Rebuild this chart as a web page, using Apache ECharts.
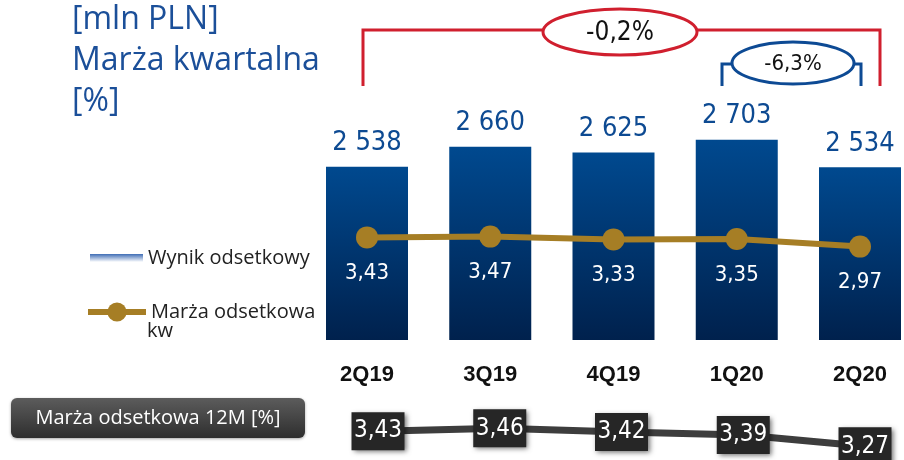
<!DOCTYPE html>
<html>
<head>
<meta charset="utf-8">
<title>Wynik odsetkowy</title>
<script src="https://cdn.jsdelivr.net/npm/echarts@6/dist/echarts.min.js"></script>
<style>
	html, body { margin:0; padding:0; background:#fff; }
	#chart { width:904px; height:460px; }
</style>
</head>
<body>
<div id="chart"></div>
<script>
// dane
var kwartaly = ['2Q19', '3Q19', '4Q19', '1Q20', '2Q20'];
var wynik_odsetkowy = [2538, 2660, 2625, 2703, 2534];
var marza_kw = [3.43, 3.47, 3.33, 3.35, 2.97];
var marza_12m = [3.43, 3.46, 3.42, 3.39, 3.27];
var zmiana_rr = '-0,2%';
var zmiana_kk = '-6,3%';

var NARROW = "'DejaVu Sans Condensed', 'Liberation Sans Narrow', sans-serif";
var SANS = "'Open Sans', 'Noto Sans', sans-serif";

var marza_chart = {
	init : function(){
		var myChart = echarts.init(document.getElementById('chart'), null, {renderer:'canvas'});
		myChart.setOption(marza_chart.get_options());
	},

	/**
	 * liczba z odstepem tysiecy
	 */
	fmt_tys : function(v){
		return String(v).replace(/\B(?=(\d{3})+(?!\d))/g, ' ');
	},

	fmt_proc : function(v){
		return v.toFixed(2).replace('.', ',');
	},

	get_graphic : function(){
		var red = '#D01F2E', blue = '#0D4A94';
		return [
			// tytul
			{type:'text', left:72, top:4, style:{text:'[mln PLN]', font:'32px ' + SANS, fill:'#1B4F99'}},
			{type:'text', left:72, top:45, style:{text:'Marża kwartalna', font:'32px ' + SANS, fill:'#1B4F99'}},
			{type:'text', left:72, top:86, style:{text:'[%]', font:'32px ' + SANS, fill:'#1B4F99'}},
			{type:'text', left:147, top:321, style:{text:'kw', font:'20px ' + SANS, fill:'#222'}},
			// klamra r/r
			{type:'polyline', shape:{points:[[363,86],[363,30],[880,30],[880,86]]}, style:{stroke:red, lineWidth:3, fill:null}},
			{type:'ellipse', shape:{cx:620, cy:32, rx:77, ry:23}, style:{stroke:red, lineWidth:3, fill:'#fff'}},
			{type:'text', x:620, y:33, style:{text:zmiana_rr, font:'26px ' + NARROW, fill:'#111', align:'center', verticalAlign:'middle'}},
			// klamra k/k
			{type:'polyline', shape:{points:[[722,86],[722,64],[734,64]]}, style:{stroke:blue, lineWidth:3, fill:null}},
			{type:'polyline', shape:{points:[[852,64],[861,64],[861,86]]}, style:{stroke:blue, lineWidth:3, fill:null}},
			{type:'ellipse', shape:{cx:793, cy:63, rx:61, ry:21}, style:{stroke:blue, lineWidth:3, fill:'#fff'}},
			{type:'text', x:793, y:64, style:{text:zmiana_kk, font:'22px ' + NARROW, fill:'#111', align:'center', verticalAlign:'middle'}},
			// marza 12M
			{type:'rect', shape:{x:11, y:398, width:294, height:40, r:6},
				style:{fill:new echarts.graphic.LinearGradient(0,0,0,1,[{offset:0,color:'#5C5C5C'},{offset:1,color:'#2E2E2E'}]),
					shadowBlur:3, shadowColor:'rgba(0,0,0,0.35)', shadowOffsetY:1}},
			{type:'text', x:158, y:418, style:{text:'Marża odsetkowa 12M [%]', font:'20px ' + SANS, fill:'#fff', align:'center', verticalAlign:'middle'}}
		];
	},

	get_options : function(){
		var option = {
			animation:false,
			textStyle:{fontFamily:SANS},
			legend:[
				{
					left:85, top:243, itemWidth:53, itemHeight:8, itemGap:0,
					textStyle:{fontSize:20, color:'#222', fontFamily:SANS},
					data:[{name:'Wynik odsetkowy', icon:'rect',
						itemStyle:{color:new echarts.graphic.LinearGradient(0,0,0,1,[{offset:0,color:'#3F6DB5'},{offset:1,color:'#FFFFFF'}])}}]
				},
				{
					left:80, top:297, itemWidth:58, itemHeight:24, itemGap:0,
					textStyle:{fontSize:20, color:'#222', fontFamily:SANS},
					data:[{name:'Marża odsetkowa', lineStyle:{width:6, color:'#A67E25'}}]
				}
			],
			grid:[
				{left:367, right:44, top:91, height:249},
				{left:367, right:44, top:106, height:200},
				{left:378, right:39, top:415, height:38}
			],
			xAxis:[
				{
					gridIndex:0, type:'category', data:kwartaly, boundaryGap:false,
					axisLine:{show:false}, axisTick:{show:false},
					axisLabel:{margin:24, fontSize:22, fontWeight:'bold', color:'#111', fontFamily:"'Liberation Sans', sans-serif"}
				},
				{gridIndex:1, type:'category', data:kwartaly, show:false, boundaryGap:false},
				{gridIndex:2, type:'category', data:kwartaly, show:false, boundaryGap:false}
			],
			yAxis:[
				{gridIndex:0, type:'value', min:1480, max:3000, show:false},
				{gridIndex:1, type:'value', min:0, max:10, show:false},
				{gridIndex:2, type:'value', min:3.2, max:3.6, show:false}
			],
			series:[
				{
					name:'Wynik odsetkowy', type:'bar', xAxisIndex:0, yAxisIndex:0,
					barWidth:82, data:wynik_odsetkowy,
					itemStyle:{color:new echarts.graphic.LinearGradient(0,0,0,1,[{offset:0,color:'#00498F'},{offset:1,color:'#00214D'}])},
					label:{show:true, position:'top', distance:10, fontSize:27, color:'#0D4A92', fontFamily:NARROW,
						formatter:function(p){ return marza_chart.fmt_tys(p.value); }}
				},
				{
					name:'Marża odsetkowa', type:'line', xAxisIndex:1, yAxisIndex:1,
					data:marza_kw, symbol:'circle', symbolSize:22,
					lineStyle:{color:'#A67E25', width:6},
					itemStyle:{color:'#A67E25'},
					label:{show:true, position:'bottom', distance:14, fontSize:22, color:'#fff', fontFamily:NARROW,
						formatter:function(p){ return marza_chart.fmt_proc(p.value); }}
				},
				{
					name:'Marża odsetkowa 12M', type:'line', xAxisIndex:2, yAxisIndex:2,
					data:marza_12m, symbol:'rect', symbolSize:[53,38],
					lineStyle:{color:'#3D3D3D', width:7},
					itemStyle:{color:'#262626', shadowBlur:5, shadowColor:'rgba(0,0,0,0.55)', shadowOffsetX:2, shadowOffsetY:2},
					label:{show:true, position:'inside', fontSize:24, color:'#fff', fontFamily:NARROW,
						formatter:function(p){ return marza_chart.fmt_proc(p.value); }}
				}
			],
			graphic:marza_chart.get_graphic()
		};
		return option;
	}
};

marza_chart.init();
</script>
</body>
</html>
